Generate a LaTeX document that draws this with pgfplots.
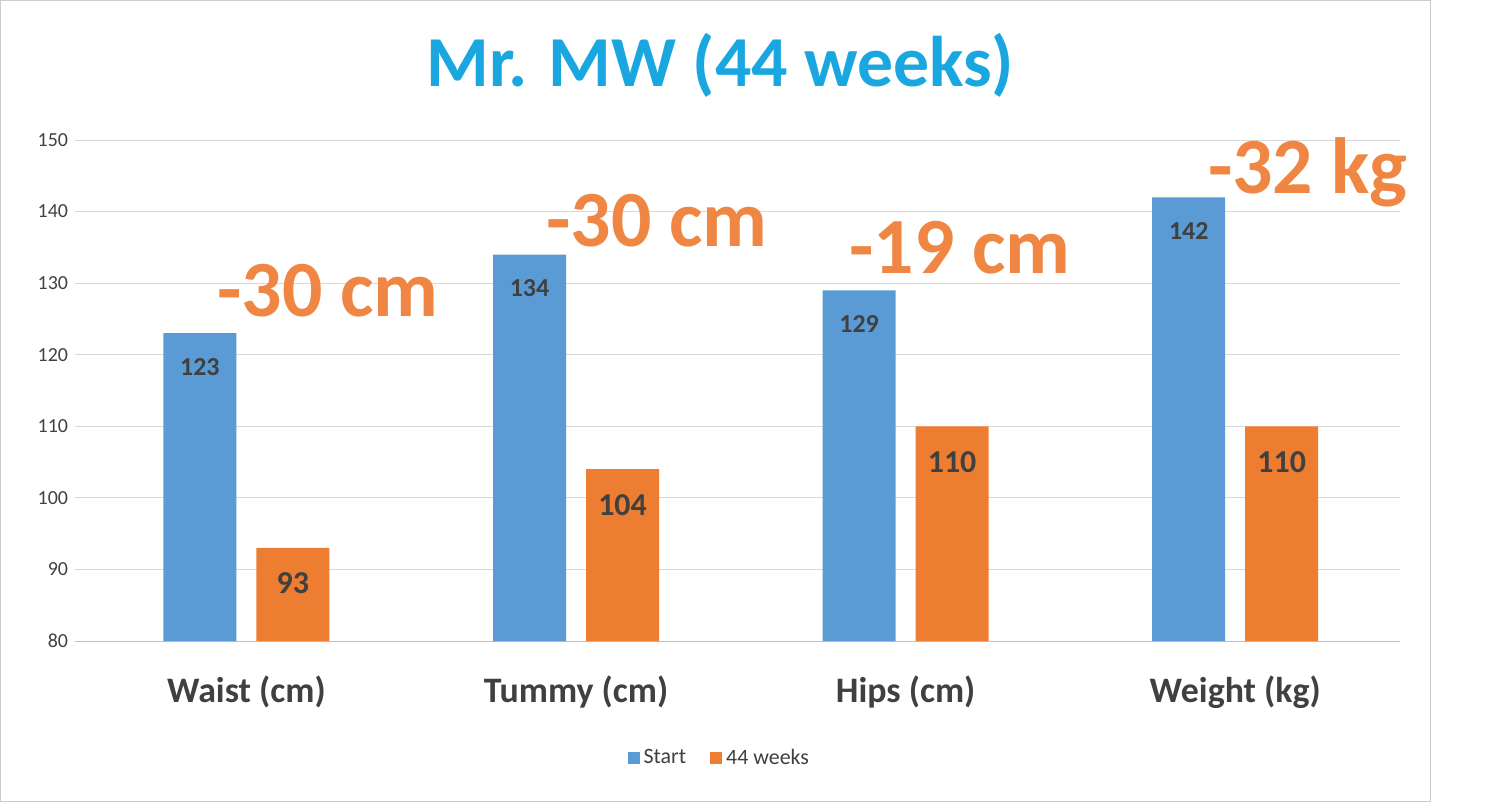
\documentclass[border=0pt]{standalone}
\usepackage{pgfplots}
\pgfplotsset{compat=1.18}
\usepackage{fontspec}
\setmainfont{Carlito}
\definecolor{cblue}{HTML}{5B9BD5}
\definecolor{corange}{HTML}{ED7D31}
\definecolor{ctitle}{HTML}{1AA7E0}
\definecolor{cann}{HTML}{F08643}
\definecolor{ctext}{HTML}{404040}
\begin{document}
\begin{tikzpicture}
\path[use as bounding box] (0,0) rectangle (750bp,401.5bp);
\draw[gray!40] (0.3bp,0.8bp) rectangle (715bp,401.5bp);
\begin{axis}[
  at={(37.5bp,81bp)}, anchor=south west,
  scale only axis, width=662.5bp, height=250.5bp,
  xmin=-0.52, xmax=3.5, ymin=80, ymax=150,
  ybar, bar width=36.5bp,
  xtick={0,1,2,3},
  xticklabels={Waist (cm),Tummy (cm),Hips (cm),Weight (kg)},
  x tick label style={font=\fontsize{18}{20}\selectfont\bfseries, text=ctext, yshift=-14bp},
  ytick={80,90,...,150},
  y tick label style={font=\fontsize{10}{12}\selectfont, text=ctext},
  /pgf/number format/assume math mode=true,
  major tick length=0pt,
  ymajorgrids, grid style={draw=black!15},
  axis y line*=left, y axis line style={draw=none},
  axis x line*=bottom, x axis line style={draw=black!25},
  nodes near coords,
  every node near coord/.append style={anchor=north, yshift=-9bp, text=ctext, font=\fontsize{13}{15}\selectfont\bfseries},
  clip=false,
  legend style={at={(0.487,-0.234)}, anchor=center, draw=none, legend columns=2,
    font=\fontsize{11}{12}\selectfont, text=ctext, /tikz/every even column/.append style={column sep=10bp}},
  legend image code/.code={\fill[#1] (0bp,-3bp) rectangle (6bp,3bp);},
]
\addplot[fill=cblue, draw=none, bar shift=-23.25bp] coordinates {(0,123) (1,134) (2,129) (3,142)};
\addplot[fill=corange, draw=none, bar shift=23.25bp, every node near coord/.append style={font=\fontsize{16}{18}\selectfont\bfseries}] coordinates {(0,93) (1,104) (2,110) (3,110)};
\legend{Start,44 weeks}
\node[text=cann, font=\fontsize{40}{44}\selectfont\bfseries] at (axis cs:0.248,129.0) {-30 cm};
\node[text=cann, font=\fontsize{40}{44}\selectfont\bfseries] at (axis cs:1.246,138.8) {-30 cm};
\node[text=cann, font=\fontsize{40}{44}\selectfont\bfseries] at (axis cs:2.165,134.9) {-19 cm};
\node[text=cann, font=\fontsize{40}{44}\selectfont\bfseries] at (axis cs:3.22,145.5) {-32 kg};
\node[text=ctitle, font=\fontsize{36}{40}\selectfont\bfseries] at (rel axis cs:0.487,1.15) {Mr. MW (44 weeks)};
\end{axis}
\end{tikzpicture}
\end{document}
